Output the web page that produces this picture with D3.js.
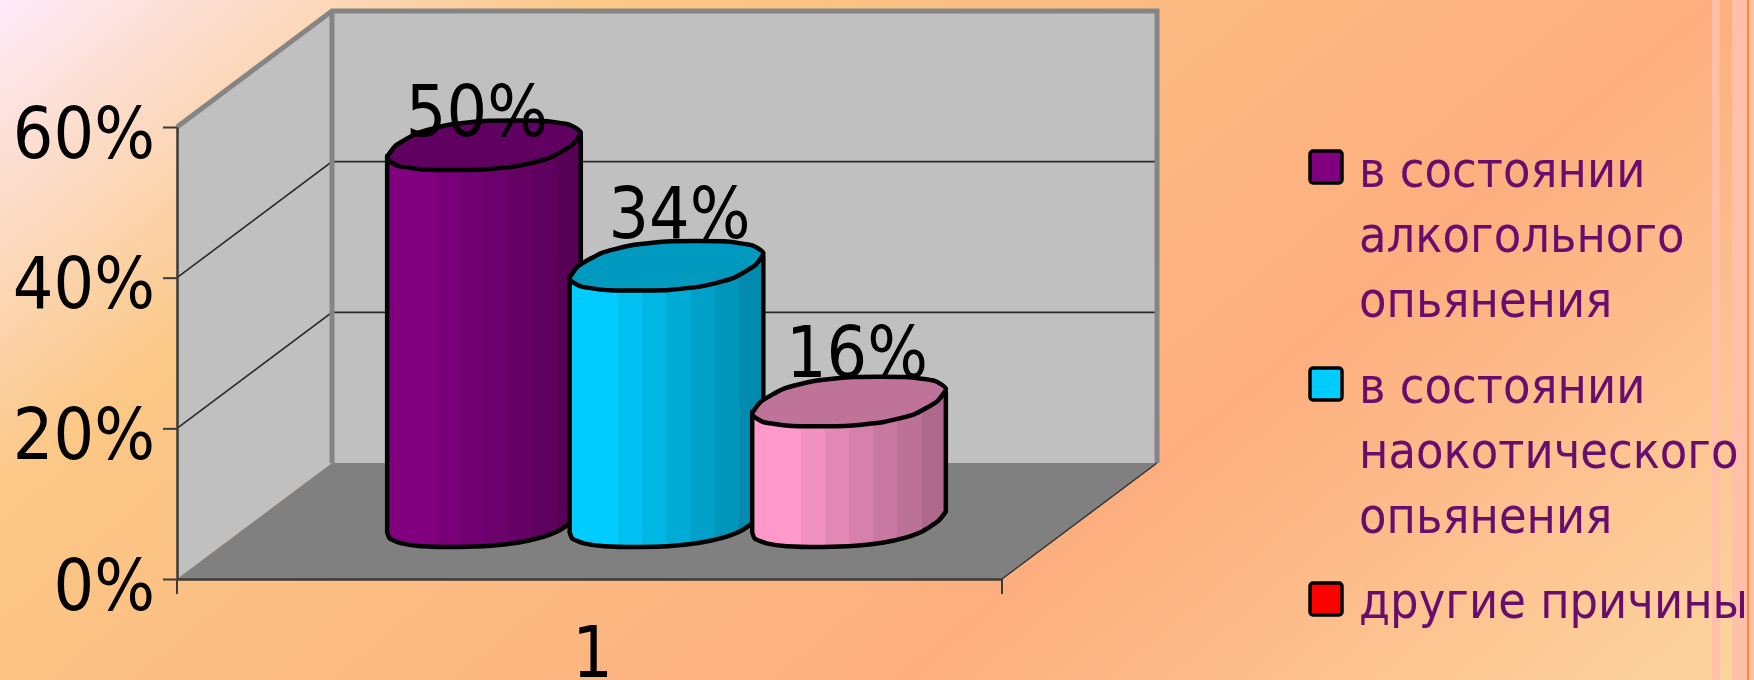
<!DOCTYPE html>
<html>
<head>
<meta charset="utf-8">
<script src="https://cdn.jsdelivr.net/npm/d3@7"></script>
<style>
  html, body { margin: 0; padding: 0; overflow: hidden; }
  text { font-family: "DejaVu Sans", sans-serif; }
</style>
</head>
<body>
<div id="chart"></div>
<script>
const categories = ["1"];
const seriesNames = [
  ["в состоянии", "алкогольного", "опьянения"],
  ["в состоянии", "наокотического", "опьянения"],
  ["другие причины"]
];
const seriesValues = [50, 34, 16];
const seriesColors = ["#800080", "#00CCFF", "#FF99CC", "#FF0000"];
const yTicks = [0, 20, 40, 60];

const width = 1754, height = 680;
const depthX = 155, depthY = -116;

const svgRoot = d3.select("#chart").append("svg").attr("width", width).attr("height", height).style("display", "block");
const defs = svgRoot.append("defs");

// slide background
const bg = defs.append("linearGradient").attr("id", "bg").attr("gradientUnits", "userSpaceOnUse")
  .attr("x1", 0).attr("y1", 0).attr("x2", 1053).attr("y2", 1263);
[[0, "#FDEBFA"], [0.23, "#FBC886"], [0.67, "#FDAE7E"], [1, "#FCD6A0"]].forEach(s =>
  bg.append("stop").attr("offset", s[0]).attr("stop-color", s[1]));
svgRoot.append("rect").attr("width", width).attr("height", height).attr("fill", "url(#bg)");
svgRoot.append("rect").attr("x", 1712).attr("width", 8).attr("height", height).attr("fill", "#FFBFA8");
svgRoot.append("rect").attr("x", 1732).attr("width", 22).attr("height", height).attr("fill", "#FFBFA8");
svgRoot.append("rect").attr("x", 1747).attr("width", 2).attr("height", height).attr("fill", "#FF8833");

// the reference is a slightly soft upscaled picture
defs.append("filter").attr("id", "soft").append("feGaussianBlur").attr("stdDeviation", 0.5);
const svg = svgRoot.append("g").attr("filter", "url(#soft)");

const y = d3.scaleLinear().domain([0, 60]).range([579, 127]);
const xBand = d3.scaleBand().domain(categories).range([177, 1002]);
const xSeries = d3.scalePoint().domain(d3.range(seriesValues.length)).range([177, 1002]).padding(1.26);

const x0 = xBand.range()[0], x1 = xBand.range()[1];
const pts = a => a.map(p => p.join(",")).join(" ");

// walls and floor
svg.append("polygon").attr("fill", "#C0C0C0")
  .attr("points", pts([[x0 + depthX, y(60) + depthY], [x1 + depthX, y(60) + depthY], [x1 + depthX, y(0) + depthY], [x0 + depthX, y(0) + depthY]]));
svg.append("polygon").attr("fill", "#C0C0C0")
  .attr("points", pts([[x0, y(60)], [x0 + depthX, y(60) + depthY], [x0 + depthX, y(0) + depthY], [x0, y(0)]]));
svg.append("polygon").attr("fill", "#808080")
  .attr("points", pts([[x0, y(0)], [x0 + depthX, y(0) + depthY], [x1 + depthX, y(0) + depthY], [x1, y(0)]]));

// gridlines
yTicks.filter(d => d > 0 && d < 60).forEach(d => {
  svg.append("polyline").attr("fill", "none").attr("stroke", "#2a2a2a").attr("stroke-width", 1.6)
    .attr("points", pts([[x0, y(d)], [x0 + depthX, y(d) + depthY], [x1 + depthX, y(d) + depthY]]));
});

// thick grey wall edges
svg.append("polyline").attr("fill", "none").attr("stroke", "#858585").attr("stroke-width", 5)
  .attr("points", pts([[x0, y(60)], [x0 + depthX, y(60) + depthY], [x1 + depthX, y(60) + depthY], [x1 + depthX, y(0) + depthY]]));
svg.append("line").attr("stroke", "#858585").attr("stroke-width", 5)
  .attr("x1", x0 + depthX).attr("x2", x0 + depthX).attr("y1", y(60) + depthY).attr("y2", y(0) + depthY);
svg.append("line").attr("stroke", "#333").attr("stroke-width", 1.5)
  .attr("x1", x1).attr("y1", y(0)).attr("x2", x1 + depthX).attr("y2", y(0) + depthY);

// axes
const yAxis = svg.append("g").attr("transform", `translate(${x0},0)`)
  .call(d3.axisLeft(y).tickValues(yTicks).tickSize(14).tickSizeOuter(0).tickFormat(d => d + "%"));
yAxis.select(".domain").attr("stroke", "#3a3a3a").attr("stroke-width", 2.5);
yAxis.selectAll(".tick line").attr("stroke", "#3a3a3a").attr("stroke-width", 2);
yAxis.selectAll(".tick text")
  .attr("x", null).attr("dy", null)
  .attr("transform", "translate(-22,30) scale(1,1.12)")
  .attr("font-size", 64).attr("fill", "#000").attr("text-anchor", "end");

const xAxis = svg.append("g").attr("transform", `translate(0,${y(0)})`)
  .call(d3.axisBottom(xBand).tickSize(0));
xAxis.select(".domain").attr("stroke", "#3a3a3a").attr("stroke-width", 2.5);
xAxis.selectAll(".tick text")
  .attr("y", null).attr("dy", null)
  .attr("transform", "translate(3,98) scale(1,1.12)")
  .attr("font-size", 64).attr("fill", "#000").attr("text-anchor", "middle");
[x0, x1].forEach(px => svg.append("line").attr("stroke", "#3a3a3a").attr("stroke-width", 2)
  .attr("x1", px).attr("x2", px).attr("y1", y(0)).attr("y2", y(0) + 15));

// cylinders, the outline is a coarse squarish ellipse like the original
const radiusA = 88, shear = 31, radiusC = 25, squareness = 0.8;
const spow = a => Math.sign(a) * Math.pow(Math.abs(a), squareness);
const ringPoint = (cx, cy, t) => [
  cx + radiusA * spow(Math.cos(t)) + shear * spow(Math.sin(t)),
  cy - radiusC * spow(Math.sin(t))
];
const ring = (cx, cy, from, to, n) => d3.range(n + 1).map(i => ringPoint(cx, cy, from + (to - from) * i / n));
const closedLine = d3.line().curve(d3.curveCardinalClosed.tension(0.5));
const openLine = d3.line().curve(d3.curveCardinal.tension(0.5));
const tiltT = Math.atan2(shear, radiusA);

seriesValues.forEach((v, i) => {
  const cx = xSeries(i) + 77;
  const base = y(0) - 57, top = y(v) - 57;
  const col = d3.color(seriesColors[i]);
  const capColor = d3.rgb(col.r * 0.75, col.g * 0.75, col.b * 0.75);

  const grad = defs.append("linearGradient").attr("id", "cyl" + i);
  const steps = 8;
  d3.range(steps).forEach(s => {
    const k = s < 2 ? 0 : (s - 1) / (steps - 1);
    const c = d3.interpolateRgb(col, col.darker(1.3))(k);
    grad.append("stop").attr("offset", s / steps).attr("stop-color", c);
    grad.append("stop").attr("offset", (s + 1) / steps).attr("stop-color", c);
  });

  const front = ring(cx, base, Math.PI + tiltT, 2 * Math.PI + tiltT, 10);
  const rightTop = ringPoint(cx, top, tiltT);
  const leftTop = ringPoint(cx, top, Math.PI + tiltT);
  const side = openLine(front) + "L" + rightTop.join(",") + "L" + leftTop.join(",") + "Z";

  svg.append("path").attr("d", side).attr("fill", `url(#cyl${i})`)
    .attr("stroke", "#000").attr("stroke-width", 4.5).attr("stroke-linejoin", "round");
  svg.append("path").attr("d", closedLine(ring(cx, top, 0, 2 * Math.PI, 14).slice(0, 14)))
    .attr("fill", capColor).attr("stroke", "#000").attr("stroke-width", 4.5).attr("stroke-linejoin", "round");
});

// data labels, sitting slightly off the cylinders
const labelNudge = [[-8, -66], [12, -85], [7, -81]];
seriesValues.forEach((v, i) => {
  svg.append("text").text(v + "%")
    .attr("transform", `translate(${xSeries(i) + 78 + labelNudge[i][0]},${y(v) + labelNudge[i][1]}) scale(1,1.12)`)
    .attr("text-anchor", "middle").attr("font-size", 64).attr("fill", "#000");
});

// legend
const legendTop = [151, 368, 583];
const legendBase = [187, 403, 618];
seriesNames.forEach((lines, i) => {
  const colorIndex = i === 2 ? 3 : i;
  svg.append("rect").attr("x", 1310).attr("y", legendTop[i]).attr("width", 32).attr("height", 32).attr("rx", 3)
    .attr("fill", seriesColors[colorIndex]).attr("stroke", "#000").attr("stroke-width", 3.5);
  lines.forEach((line, j) => {
    svg.append("text").text(line)
      .attr("transform", `translate(1359,${legendBase[i] + j * 65}) scale(1,1.12)`)
      .attr("font-size", 45).attr("fill", "#660A6E");
  });
});
</script>
</body>
</html>
